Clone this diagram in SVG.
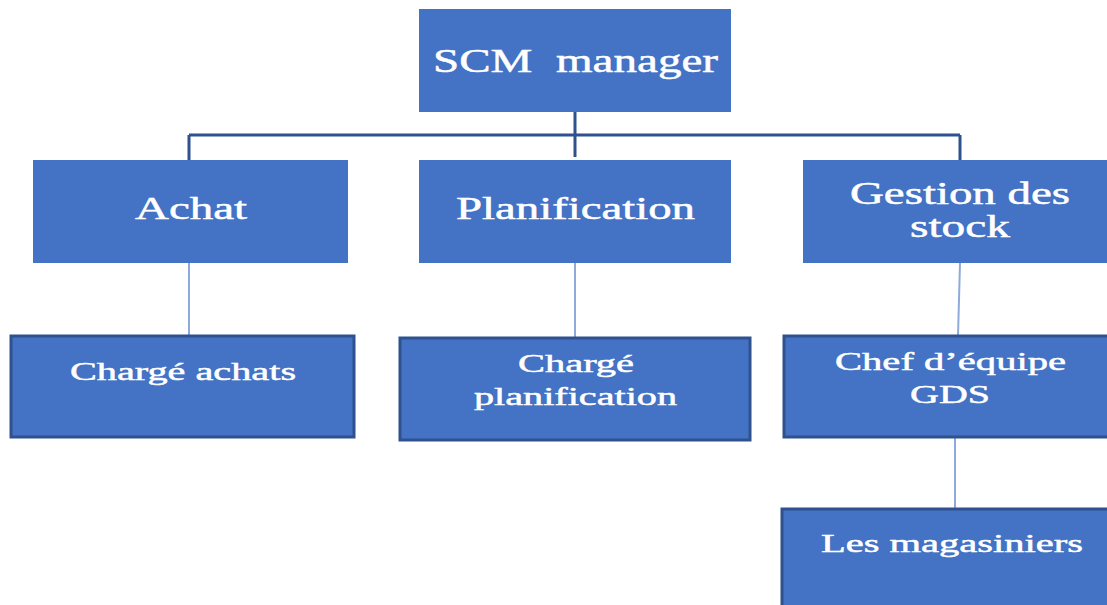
<svg xmlns="http://www.w3.org/2000/svg" width="1107" height="605" viewBox="0 0 1107 605">
  <style>
    .box { fill: #4472c4; }
    .box2 { fill: #4472c4; stroke: #2f528f; stroke-width: 3; }
    .lbl { fill: #ffffff; stroke: #ffffff; stroke-width: 0.5; font-family: "Liberation Serif", "Times New Roman", serif; text-anchor: middle; white-space: pre; }
    .l1 { font-size: 34px; }
    .l2 { font-size: 31px; }
    .l3 { font-size: 26px; }
    .trunk { stroke: #2f528f; stroke-width: 3; fill: none; }
    .leg { stroke: #8eaadb; stroke-width: 2; fill: none; }
  </style>
  <rect width="1107" height="605" fill="#ffffff"/>

  <g id="connectors">
    <path class="trunk" d="M575,112 V157 M189,135 H960 M189,135 V160 M960,135 V160"/>
    <path class="leg" d="M189,263 V336 M575,263 V338 M960,263 L958,336 M955,437 V510"/>
  </g>

  <g id="scm-manager">
    <rect class="box" x="419" y="9" width="312" height="103"/>
    <text class="lbl l1" transform="translate(575.5,72) scale(1.42,1)" textLength="200.7" lengthAdjust="spacingAndGlyphs" xml:space="preserve">SCM  manager</text>
  </g>

  <g id="achat">
    <rect class="box" x="33" y="160" width="315" height="103"/>
    <text class="lbl l2" transform="translate(191,219) scale(1.42,1)" textLength="78.9" lengthAdjust="spacingAndGlyphs">Achat</text>
  </g>

  <g id="planification">
    <rect class="box" x="419" y="160" width="312" height="103"/>
    <text class="lbl l2" transform="translate(575.5,219) scale(1.42,1)" textLength="168.3" lengthAdjust="spacingAndGlyphs">Planification</text>
  </g>

  <g id="gestion-stock">
    <rect class="box" x="803" y="160" width="320" height="103"/>
    <text class="lbl l2" transform="translate(960,204) scale(1.42,1)" textLength="154.9" lengthAdjust="spacingAndGlyphs">Gestion des</text>
    <text class="lbl l2" transform="translate(960,237) scale(1.42,1)" textLength="70.4" lengthAdjust="spacingAndGlyphs">stock</text>
  </g>

  <g id="charge-achats">
    <rect class="box2" x="11" y="336" width="343" height="101"/>
    <text class="lbl l3" transform="translate(183,380) scale(1.42,1)" textLength="159.2" lengthAdjust="spacingAndGlyphs">Chargé achats</text>
  </g>

  <g id="charge-planification">
    <rect class="box2" x="400" y="338" width="350" height="102"/>
    <text class="lbl l3" transform="translate(576,372) scale(1.42,1)" textLength="81.7" lengthAdjust="spacingAndGlyphs">Chargé</text>
    <text class="lbl l3" transform="translate(575.5,405) scale(1.42,1)" textLength="143" lengthAdjust="spacingAndGlyphs">planification</text>
  </g>

  <g id="chef-equipe-gds">
    <rect class="box2" x="784" y="336" width="340" height="101"/>
    <text class="lbl l3" transform="translate(950.5,370) scale(1.42,1)" textLength="162.7" lengthAdjust="spacingAndGlyphs">Chef d’équipe</text>
    <text class="lbl l3" transform="translate(950,403) scale(1.42,1)" textLength="56.3" lengthAdjust="spacingAndGlyphs">GDS</text>
  </g>

  <g id="magasiniers">
    <rect class="box2" x="782" y="509" width="340" height="110"/>
    <text class="lbl l3" transform="translate(952,552) scale(1.42,1)" textLength="184.5" lengthAdjust="spacingAndGlyphs">Les magasiniers</text>
  </g>
</svg>
